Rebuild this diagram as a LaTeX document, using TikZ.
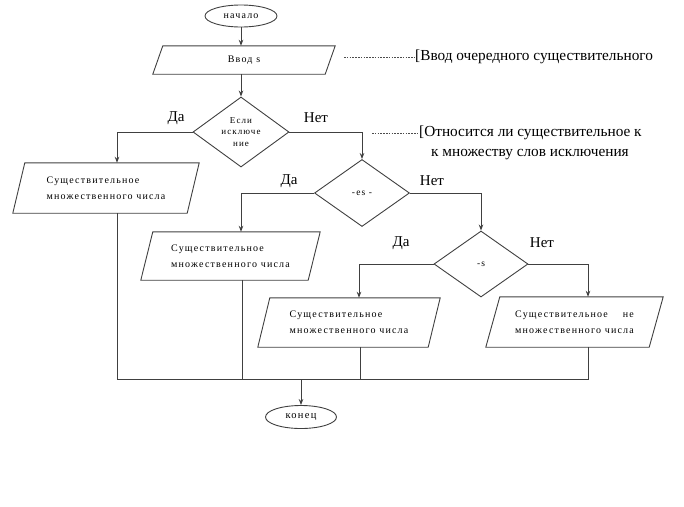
\documentclass[tikz,border=0pt]{standalone}
\usepackage{fontspec}
\setmainfont{Liberation Serif}
\newfontfamily\boxfont[LetterSpace=12]{Liberation Serif}
\usetikzlibrary{shapes.geometric,arrows.meta,calc}
\newcommand\pgram[2]{\draw[ln] ([xshift=#2]#1.north west) -- ([xshift=#2]#1.north east) -- ([xshift=-#2]#1.south east) -- ([xshift=-#2]#1.south west) -- cycle;}
\begin{document}
\begin{tikzpicture}[x=1pt,y=-1pt,
  ln/.style={draw=black!75,line width=0.9pt},
  arr/.style={ln,-{Stealth[length=6pt,width=4.5pt]}},
  dashln/.style={draw=black!70,line width=0.6pt,dash pattern=on 1.6pt off 1.2pt},
  term/.style={ellipse,ln,inner sep=0pt,font=\boxfont\fontsize{10}{11}\selectfont},
  dec/.style={diamond,ln,inner sep=0pt,align=center,font=\boxfont\fontsize{9.5}{11.5}\selectfont},
  io/.style={rectangle,inner sep=0pt,align=left,font=\boxfont\fontsize{10}{16}\selectfont},
  lbl/.style={font=\fontsize{15}{17}\selectfont,inner sep=0pt},
  note/.style={font=\fontsize{15.3}{17}\selectfont,inner sep=0pt,anchor=west}
]
\useasboundingbox (0,0) rectangle (684,506);

% terminals
\node[term,minimum width=72pt,minimum height=22pt] (start) at (241,16) {начало};
\node[term,minimum width=71pt,minimum height=23pt,font=\boxfont\fontsize{10.5}{11}\selectfont] (end) at (301,417) {конец};

% input
\node[io,minimum width=172pt,minimum height=28pt,font=\boxfont\fontsize{10}{11}\selectfont] (in) at (244,60) {Ввод s};
\pgram{in}{5pt}

% decisions
\node[dec,minimum width=96pt,minimum height=70pt,font=\boxfont\fontsize{9}{11.5}\selectfont] (d1) at (241,132) {Если\\исключе\\ние};
\node[dec,minimum width=95pt,minimum height=67pt] (d2) at (362,193) {-es -};
\node[dec,minimum width=94pt,minimum height=66pt] (d3) at (481,264) {-s};

% outputs
\node[io,minimum width=174pt,minimum height=50pt] (p1) at (106,188) {Существительное\\множественного числа};
\pgram{p1}{6pt}
\node[io,minimum width=167pt,minimum height=48pt] (p2) at (230.5,256) {Существительное\\множественного числа};
\pgram{p2}{6pt}
\node[io,minimum width=170pt,minimum height=49pt] (p3) at (349,322.5) {Существительное\\множественного числа};
\pgram{p3}{6pt}
\node[io,minimum width=163pt,minimum height=50pt] (p4) at (574.5,322) {\setbox0\hbox{множественного числа}\begin{tabular}{@{}l@{}}\hbox to\wd0{Существительное\hfill не}\\ \box0\end{tabular}};
\pgram{p4}{7pt}

% labels
\node[lbl] (da1) at (176,118) {Да};
\node[lbl] (net1) at (316,118) {Нет};
\node[lbl] (da2) at (289,181) {Да};
\node[lbl] (net2) at (432,181) {Нет};
\node[lbl] (da3) at (401,243) {Да};
\node[lbl] (net3) at (542,243) {Нет};

% notes
\node[note] (a1) at (415,57) {[Ввод очередного существительного};
\coordinate (a1s) at (344,57);
\draw[dashln] (a1s) -- (a1.west);
\node[note] (a2) at (419,133) {[Относится ли существительное к};
\node[note] (a2b) at (431,155) {к множеству слов исключения};
\coordinate (a2s) at (372,133);
\draw[dashln] (a2s) -- (a2.west);

% flow
\draw[arr] (start.south) -- (start.south |- in.north);
\draw[arr] (d1.north |- in.south) -- (d1.north);
\draw[arr] (d1.west) -| ([xshift=11pt]p1.north);
\draw[arr] (d1.east) -| (d2.north);
\draw[arr] (d2.west) -| ([xshift=10.5pt]p2.north);
\draw[arr] (d2.east) -| (d3.north);
\draw[arr] (d3.west) -| ([xshift=10pt]p3.north);
\draw[arr] (d3.east) -| ([xshift=13.5pt]p4.north);

% collector
\coordinate (bus) at (0,379);
\draw[ln] ([xshift=11pt]p1.south) -- ([xshift=11pt]p1.south |- bus) -- ([xshift=13.5pt]p4.south |- bus) -- ([xshift=13.5pt]p4.south);
\draw[ln] ([xshift=11.5pt]p2.south) -- ([xshift=11.5pt]p2.south |- bus);
\draw[ln] ([xshift=11pt]p3.south) -- ([xshift=11pt]p3.south |- bus);
\draw[arr] (end.north |- bus) -- (end.north);
\end{tikzpicture}
\end{document}
